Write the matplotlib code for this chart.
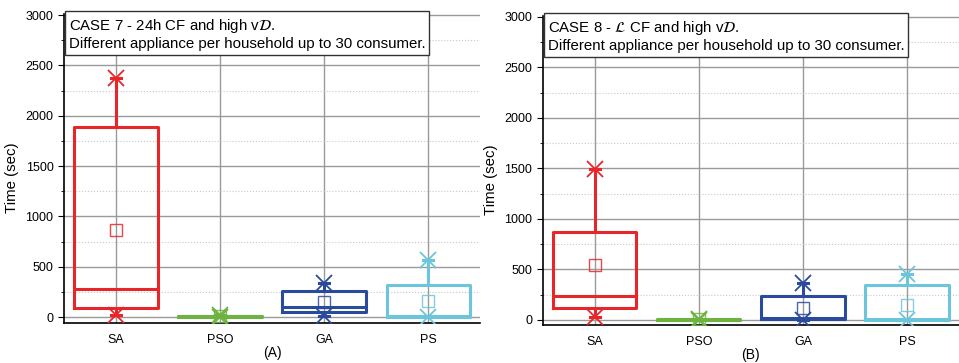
import matplotlib
matplotlib.use("Agg")
import matplotlib.pyplot as plt
from matplotlib.ticker import MultipleLocator

plt.rcParams['font.family'] = ['Liberation Sans', 'DejaVu Sans']

algos = ['SA', 'PSO', 'GA', 'PS']
colors = ['#E8262A', '#6DB33F', '#2A4B9B', '#6CC5DB']

# case 7 (A): min, q1, median, q3, max, mean
a_min = [20, 2, 10, 0]
a_q1 = [90, 5, 47, 5]
a_med = [280, 10, 103, 8]
a_q3 = [1885, 15, 256, 316]
a_max = [2372, 25, 342, 568]
a_mean = [864, 12, 153, 160]

# case 8 (B)
b_min = [30, 0, 0, 0]
b_q1 = [116, 0, 10, 2]
b_med = [235, 2, 20, 5]
b_q3 = [871, 5, 241, 348]
b_max = [1490, 8, 364, 454]
b_mean = [539, 4, 116, 149]

titles = ['CASE 7 - 24h CF and high v$\\mathcal{D}$.\nDifferent appliance per household up to 30 consumer.',
          'CASE 8 - $\\mathcal{L}$ CF and high v$\\mathcal{D}$.\nDifferent appliance per household up to 30 consumer.']
panel_labels = ['(A)', '(B)']

fig = plt.figure(figsize=(9.59, 3.63), dpi=100)
ax1 = fig.add_axes([0.0667, 0.110, 0.434, 0.851])
ax2 = fig.add_axes([0.566, 0.105, 0.434, 0.851])

data = [(a_min, a_q1, a_med, a_q3, a_max, a_mean),
        (b_min, b_q1, b_med, b_q3, b_max, b_mean)]
ylims = [(-60, 3010), (-50, 3010)]

for ax, d, title, plab, yl in zip([ax1, ax2], data, titles, panel_labels, ylims):
    mins, q1s, meds, q3s, maxs, means = d
    for i in range(4):
        st = [dict(whislo=mins[i], q1=q1s[i], med=meds[i], q3=q3s[i],
                   whishi=maxs[i], mean=means[i], label=algos[i])]
        c = colors[i]
        ax.bxp(st, positions=[i + 1], widths=0.8, showmeans=True,
               showfliers=False, capwidths=0.1,
               boxprops=dict(color=c, linewidth=2.2),
               medianprops=dict(color=c, linewidth=2.2),
               whiskerprops=dict(color=c, linewidth=2.2),
               capprops=dict(color=c, linewidth=2.2),
               meanprops=dict(marker='s', markerfacecolor='none',
                              markeredgecolor=c, markersize=9,
                              markeredgewidth=1, alpha=0.85),
               zorder=3)
        ax.plot([i + 1, i + 1], [mins[i], maxs[i]], ls='none', marker='x',
                color=c, markersize=11, markeredgewidth=1.3, zorder=4)

    ax.set_xlim(0.5, 4.5)
    ax.set_ylim(*yl)
    ax.set_xticks([1, 2, 3, 4])
    ax.set_xticklabels(algos, fontsize=9)
    ax.yaxis.set_major_locator(MultipleLocator(500))
    ax.yaxis.set_minor_locator(MultipleLocator(250))
    ax.tick_params(axis='y', labelsize=9, direction='out', length=4)
    ax.tick_params(axis='y', which='minor', length=2)
    ax.tick_params(axis='x', length=0, pad=8)
    ax.grid(True, which='major', color='#9a9a9a', linewidth=1, zorder=0)
    ax.grid(True, which='minor', axis='y', color='#c8c8c8', linestyle=':', linewidth=0.8)
    ax.set_axisbelow(True)
    for s in ['top', 'right']:
        ax.spines[s].set_visible(False)
    ax.spines['left'].set_linewidth(1.2)
    ax.spines['bottom'].set_linewidth(1.2)
    ax.set_ylabel('Time (sec)', fontsize=10.8)
    ax.yaxis.set_label_coords(-0.108, 0.47)
    ax.set_xlabel(plab, fontsize=10, labelpad=0)
    ax.text(0.012, 0.99, title, transform=ax.transAxes, ha='left', va='top',
            fontsize=10.8, linespacing=1.2, zorder=10,
            bbox=dict(boxstyle='square,pad=0.25', facecolor='white',
                      edgecolor='#333333', linewidth=1), clip_on=False)

fig.savefig('out.png', dpi=100)
